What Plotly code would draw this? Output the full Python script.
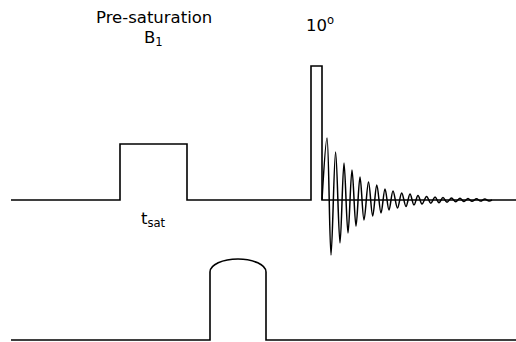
import plotly.graph_objects as go

# ---- sequence timing (horizontal units) and amplitudes (vertical units) ----
line_start, line_end = 11, 516

# RF channel: pre-saturation block and 10 degree excitation pulse
sat_on, sat_off, sat_amp = 120, 187, 56
exc_on, exc_off, exc_amp = 311, 322, 134

# free induction decay: times and signed amplitudes of successive extrema
fid_t = [327, 331, 335.6, 340, 344, 348, 352, 356, 360, 364,
         368.5, 372.7, 376.8, 381, 385, 389, 393, 397.5, 401.7, 406,
         410, 414, 418, 422, 426.6, 430.8, 435, 439, 443, 447,
         451.5, 455.7, 460, 464, 468, 472, 476.5, 480.6, 484.8, 489]
fid_amp = [62, -55, 48, -43, 37, -33, 30, -26, 23, -20,
           18, -16, 15, -13, 11, -10, 9, -8, 7, -6.5,
           6, -5, 4.5, -4, 3.6, -3.2, 3, -2.7, 2.5, -2.2,
           2, -1.8, 1.7, -1.5, 1.4, -1.3, 1.2, -1.1, 1, -1]
fid_end = 492

# gradient channel: baseline level, pulse edges, flat height and dome rise
grad_base = -140
grad_on, grad_off, grad_height, grad_dome = 210, 266, 68, 13

ink = "#000000"
lw = 1.6

fig = go.Figure()

# RF baseline with both rectangular pulses
rf_x = [line_start, sat_on, sat_on, sat_off, sat_off,
        exc_on, exc_on, exc_off, exc_off, line_end]
rf_y = [0, 0, sat_amp, sat_amp, 0, 0, exc_amp, exc_amp, 0, 0]
fig.add_trace(go.Scatter(x=rf_x, y=rf_y, mode="lines",
                         line=dict(color=ink, width=lw), hoverinfo="skip"))

# FID trace
fig.add_trace(go.Scatter(x=[exc_off] + fid_t + [fid_end],
                         y=[0] + fid_amp + [0],
                         mode="lines",
                         line=dict(color=ink, width=1.5, shape="spline"),
                         hoverinfo="skip"))

# gradient channel with a domed pulse (cubic Bezier quarter-ellipses)
k = 0.5523
top = grad_base + grad_height
mid = (grad_on + grad_off) / 2
half = (grad_off - grad_on) / 2
peak = top + grad_dome
path = (
    f"M {line_start},{grad_base} L {grad_on},{grad_base} L {grad_on},{top} "
    f"C {grad_on},{top + k * grad_dome} {mid - k * half},{peak} {mid},{peak} "
    f"C {mid + k * half},{peak} {grad_off},{top + k * grad_dome} {grad_off},{top} "
    f"L {grad_off},{grad_base} L {line_end},{grad_base}"
)
fig.add_shape(type="path", path=path, xref="x", yref="y",
              line=dict(color=ink, width=lw))

font = dict(family="DejaVu Sans, Verdana, sans-serif", size=16.5, color="#000000")
labels = [
    ("Pre-saturation", 154, 183),
    ("B<sub>1</sub>", 153, 162),
    ("10<sup>o</sup>", 319.5, 176.5),
    ("t<sub>sat</sub>", 153.5, -19),
]
for text, x, y in labels:
    fig.add_annotation(x=x, y=y, xref="x", yref="y", text=text,
                       showarrow=False, xanchor="center", yanchor="middle",
                       font=font)

fig.update_layout(
    width=516, height=342,
    margin=dict(l=0, r=0, t=0, b=0),
    paper_bgcolor="white", plot_bgcolor="white",
    showlegend=False,
    xaxis=dict(range=[0, 516], visible=False, fixedrange=True),
    yaxis=dict(range=[-142, 200], visible=False, fixedrange=True),
)

fig.write_html("out.html", config={"displayModeBar": False})
